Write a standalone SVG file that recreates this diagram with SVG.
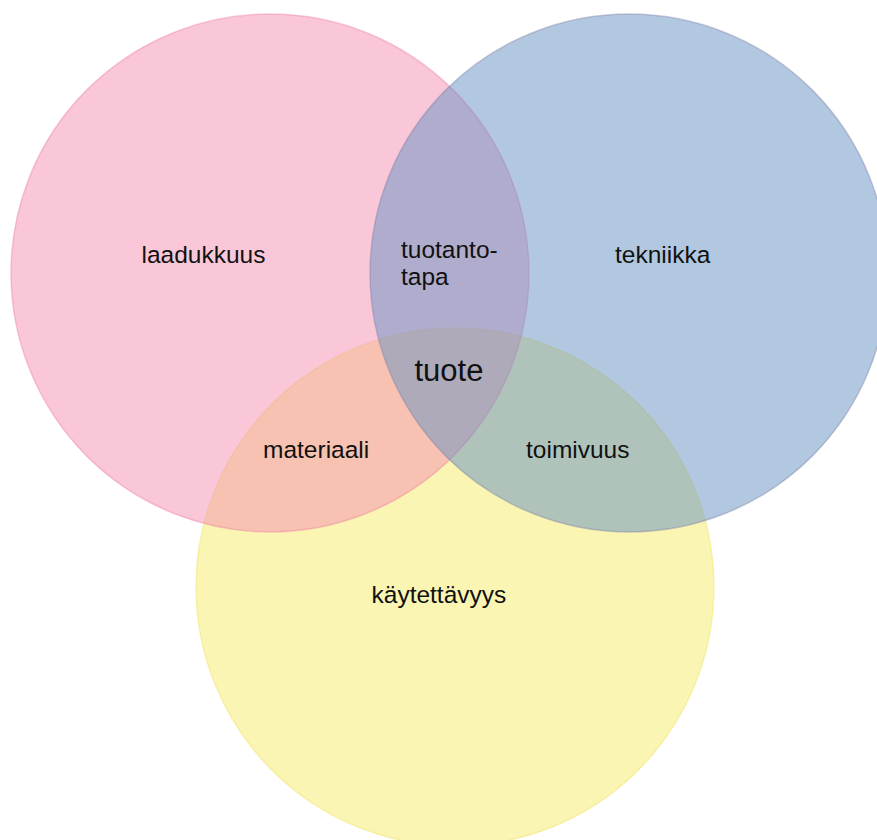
<svg xmlns="http://www.w3.org/2000/svg" width="877" height="840" viewBox="0 0 877 840">
<style>
.c{stroke-width:1.5;fill-opacity:0.5;stroke-opacity:0.4}
.t{font-family:"Liberation Sans",Arial,sans-serif;font-size:24.5px;fill:#111}
</style>
<rect width="877" height="840" fill="#fff"/>
<g id="kaytettavyys">
<circle class="c" cx="455" cy="587" r="259" fill="#f5eb67" stroke="#f0e060"/>
<text class="t" x="371.5" y="603">käytettävyys</text>
</g>
<g id="laadukkuus">
<circle class="c" cx="270" cy="273" r="259" fill="#f48fb1" stroke="#ee7aa0"/>
<text class="t" x="141.5" y="263">laadukkuus</text>
</g>
<g id="tekniikka">
<circle class="c" cx="629" cy="273" r="259" fill="#6592c1" stroke="#7a80a8"/>
<text class="t" x="615" y="263">tekniikka</text>
</g>
<g id="tuotantotapa">
<text class="t" x="401" y="258">tuotanto-</text>
<text class="t" x="401" y="285">tapa</text>
</g>
<g id="materiaali"><text class="t" x="263" y="458">materiaali</text></g>
<g id="toimivuus"><text class="t" x="526" y="458">toimivuus</text></g>
<g id="tuote"><text class="t" x="414.5" y="381" style="font-size:31px">tuote</text></g>
<g id="connectors"/>
</svg>
